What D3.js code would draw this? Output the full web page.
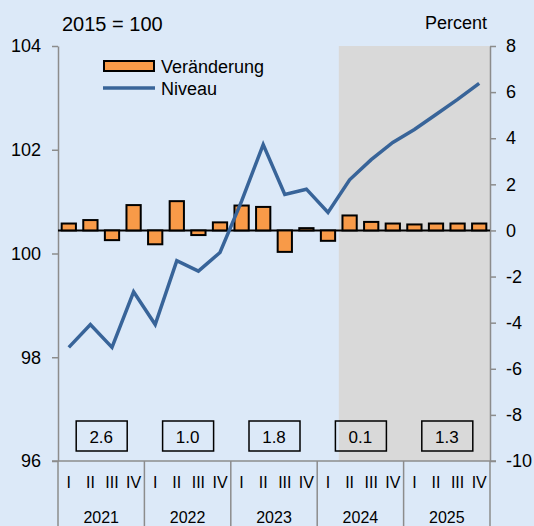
<!DOCTYPE html>
<html>
<head>
<meta charset="utf-8">
<script src="https://cdn.jsdelivr.net/npm/d3@7"></script>
<style>
  body { margin: 0; background: #dce9f8; }
  svg { display: block; font-family: 'Liberation Sans', Arial, sans-serif; }
  .axis path, .axis line { stroke: #8c8c8c; stroke-width: 1.5; }
  .axis text { font-size: 18px; fill: #000; }
</style>
</head>
<body>
<svg id="chart"></svg>
<script>
var years = ['2021', '2022', '2023', '2024', '2025'];
var quarterNames = ['I', 'II', 'III', 'IV'];
// quarterly change, percent (right axis)
var veraenderung = [0.3, 0.45, -0.42, 1.1, -0.6, 1.27, -0.2, 0.35, 1.08, 1.02,
                    -0.93, 0.1, -0.45, 0.65, 0.37, 0.3, 0.26, 0.3, 0.3, 0.3];
// level, 2015 = 100 (left axis)
var niveau = [98.19, 98.63, 98.19, 99.26, 98.63, 99.86, 99.66, 100.02, 101.01, 102.1,
              101.14, 101.24, 100.79, 101.42, 101.81, 102.14, 102.39, 102.68, 102.97, 103.28];
var annualRates = ['2.6', '1.0', '1.8', '0.1', '1.3'];
var forecastStart = 13; // 2024 Q2
var leftTicks = [96, 98, 100, 102, 104];
var rightTicks = [-10, -8, -6, -4, -2, 0, 2, 4, 6, 8];

var chart = {
  width: 534,
  height: 526,
  plot: { left: 58, right: 490, top: 46, bottom: 461 },

  init: function() {
    var self = this;
    self.svg = d3.select('#chart')
      .attr('width', self.width)
      .attr('height', self.height);

    self.quarters = d3.range(veraenderung.length);
    self.x = d3.scaleBand()
      .domain(self.quarters)
      .range([self.plot.left, self.plot.right])
      .paddingInner(0.34)
      .paddingOuter(0.17);
    self.xYear = d3.scaleBand()
      .domain(years)
      .range([self.plot.left, self.plot.right]);
    self.yLeft = d3.scaleLinear().domain([96, 104]).range([self.plot.bottom, self.plot.top]);
    self.yRight = d3.scaleLinear().domain([-10, 8]).range([self.plot.bottom, self.plot.top]);

    self.drawShade();
    self.drawAxes();
    self.drawBars();
    self.drawLine();
    self.drawBoxes();
    self.drawLegend();
  },

  drawShade: function() {
    var self = this;
    var step = self.x.step();
    var x0 = self.plot.left + step * forecastStart;
    self.svg.append('rect')
      .attr('x', x0)
      .attr('y', self.plot.top)
      .attr('width', self.plot.right - x0)
      .attr('height', self.plot.bottom - self.plot.top)
      .attr('fill', '#d9d9d9');
  },

  drawAxes: function() {
    var self = this;
    self.svg.append('g')
      .attr('class', 'axis')
      .attr('transform', 'translate(' + self.plot.left + ',0)')
      .call(d3.axisLeft(self.yLeft).tickValues(leftTicks).tickSize(6).tickSizeOuter(0).tickPadding(11));

    // plain hyphen for negatives, like the original
    self.svg.append('g')
      .attr('class', 'axis')
      .attr('transform', 'translate(' + self.plot.right + ',0)')
      .call(d3.axisRight(self.yRight).tickValues(rightTicks).tickSize(6).tickSizeOuter(0).tickPadding(10)
        .tickFormat(function(d) { return String(d); }));

    // category axis
    var g = self.svg.append('g').attr('class', 'axis');
    g.append('line')
      .attr('x1', self.plot.left - 6).attr('x2', self.plot.right + 6)
      .attr('y1', self.plot.bottom).attr('y2', self.plot.bottom);

    var bounds = years.map(function(y) { return self.xYear(y); }).concat([self.plot.right]);
    g.selectAll('.sep')
      .data(bounds)
      .enter().append('line')
      .attr('x1', function(d) { return d; })
      .attr('x2', function(d) { return d; })
      .attr('y1', self.plot.bottom)
      .attr('y2', self.height);

    g.selectAll('.qlabel')
      .data(self.quarters)
      .enter().append('text')
      .attr('x', function(d) { return self.x(d) + self.x.bandwidth() / 2; })
      .attr('y', 488)
      .attr('text-anchor', 'middle')
      .style('font-size', '16px')
      .text(function(d) { return quarterNames[d % 4]; });

    g.selectAll('.ylabel')
      .data(years)
      .enter().append('text')
      .attr('x', function(d) { return self.xYear(d) + self.xYear.bandwidth() / 2; })
      .attr('y', 523)
      .attr('text-anchor', 'middle')
      .style('font-size', '16px')
      .text(function(d) { return d; });

    self.svg.append('text')
      .attr('x', 62).attr('y', 31)
      .style('font-size', '20px')
      .text('2015 = 100');
    self.svg.append('text')
      .attr('x', 487).attr('y', 29)
      .attr('text-anchor', 'end')
      .style('font-size', '18px')
      .text('Percent');
  },

  drawBars: function() {
    var self = this;
    self.svg.append('line')
      .attr('x1', self.plot.left).attr('x2', self.plot.right)
      .attr('y1', self.yRight(0)).attr('y2', self.yRight(0))
      .attr('stroke', '#000').attr('stroke-width', 2);

    self.svg.selectAll('.bar')
      .data(veraenderung)
      .enter().append('rect')
      .attr('class', 'bar')
      .attr('x', function(d, i) { return self.x(i); })
      .attr('y', function(d) { return self.yRight(Math.max(0, d)); })
      .attr('width', self.x.bandwidth())
      .attr('height', function(d) { return Math.abs(self.yRight(d) - self.yRight(0)); })
      .attr('fill', '#f89a48')
      .attr('stroke', '#000')
      .attr('stroke-width', 2);
  },

  drawLine: function() {
    var self = this;
    var line = d3.line()
      .x(function(d, i) { return self.x(i) + self.x.bandwidth() / 2; })
      .y(function(d) { return self.yLeft(d); });
    self.svg.append('path')
      .datum(niveau)
      .attr('d', line)
      .attr('fill', 'none')
      .attr('stroke', '#386499')
      .attr('stroke-width', 3.5)
      .attr('stroke-linejoin', 'miter');
  },

  drawBoxes: function() {
    var self = this;
    var boxes = self.svg.selectAll('.box')
      .data(annualRates)
      .enter().append('g')
      .attr('transform', function(d, i) {
        return 'translate(' + (self.xYear(years[i]) + self.xYear.bandwidth() / 2) + ',0)';
      });
    boxes.append('rect')
      .attr('x', -25).attr('y', 421)
      .attr('width', 51).attr('height', 30)
      .attr('fill', 'none')
      .attr('stroke', '#000')
      .attr('stroke-width', 1.5);
    boxes.append('text')
      .attr('x', 0).attr('y', 443)
      .attr('text-anchor', 'middle')
      .style('font-size', '17px')
      .text(function(d) { return d; });
  },

  drawLegend: function() {
    var self = this;
    var lg = self.svg.append('g');
    lg.append('rect')
      .attr('x', 104).attr('y', 61)
      .attr('width', 50).attr('height', 10)
      .attr('fill', '#f89a48').attr('stroke', '#000').attr('stroke-width', 2);
    lg.append('text')
      .attr('x', 161).attr('y', 73)
      .style('font-size', '18px')
      .text('Veränderung');
    lg.append('line')
      .attr('x1', 103).attr('x2', 155)
      .attr('y1', 88).attr('y2', 88)
      .attr('stroke', '#386499').attr('stroke-width', 3.5);
    lg.append('text')
      .attr('x', 161).attr('y', 95)
      .style('font-size', '18px')
      .text('Niveau');
  }
};

chart.init();
</script>
</body>
</html>
